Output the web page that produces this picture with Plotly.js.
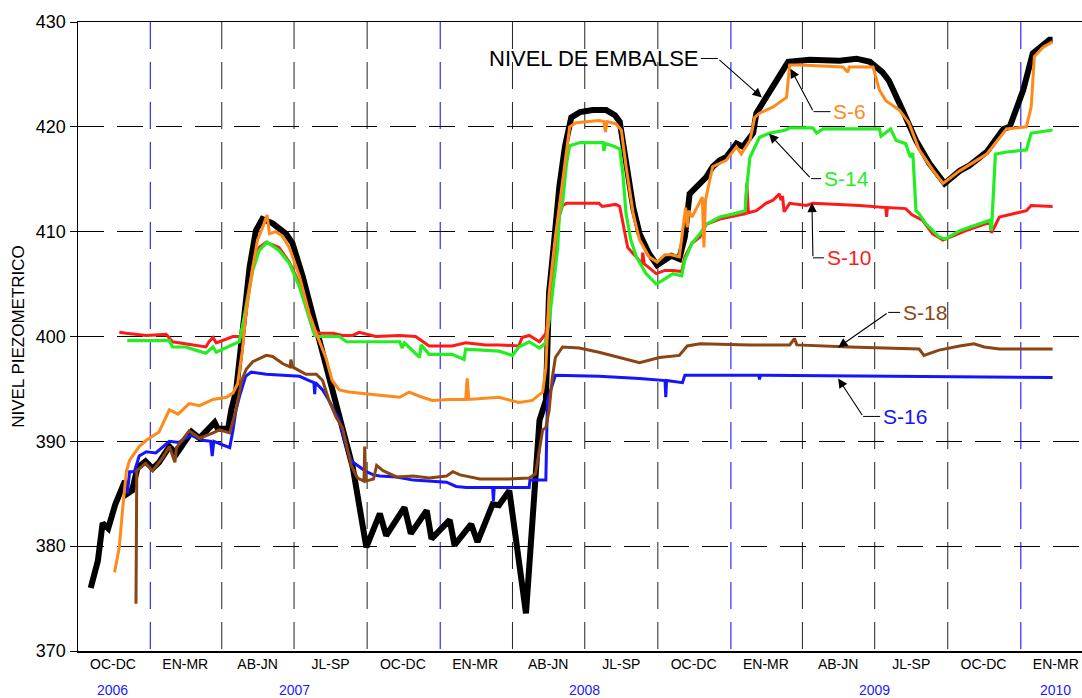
<!DOCTYPE html>
<html>
<head>
<meta charset="utf-8">
<script src="https://cdn.plot.ly/plotly-3.0.1.min.js"></script>
<style>
html,body{margin:0;padding:0;background:#fff;}
#chart{width:1082px;height:698px;}
</style>
</head>
<body>
<div id="chart"></div>
<script>
// ---------- DATA ----------
const quarterCenters = ['2006-11-15','2007-02-14','2007-05-16','2007-08-16','2007-11-15','2008-02-14','2008-05-16','2008-08-16','2008-11-15','2009-02-14','2009-05-16','2009-08-16','2009-11-15','2010-02-14'];
const quarterLabels = ['OC-DC','EN-MR','AB-JN','JL-SP','OC-DC','EN-MR','AB-JN','JL-SP','OC-DC','EN-MR','AB-JN','JL-SP','OC-DC','EN-MR'];
const quarterBounds = ['2007-01-01','2007-04-01','2007-07-01','2007-10-01','2008-01-01','2008-04-01','2008-07-01','2008-10-01','2009-01-01','2009-04-01','2009-07-01','2009-10-01','2010-01-01'];
const yearLabels = ['2006','2007','2008','2009','2010'];
const yearCenters = ['2006-11-15','2007-07-01','2008-07-01','2009-07-01','2010-02-14'];
const yTicks = [370,380,390,400,410,420,430];

const nivelEmbalse = [
['2006-10-18',376.0],['2006-10-27',378.6],['2006-11-02',382.2],['2006-11-09',381.7],['2006-11-18',384.0],['2006-11-30',386.2],
['2006-12-03',385.0],['2006-12-09',385.3],['2006-12-16',387.5],['2006-12-26',388.1],['2007-01-04',387.4],['2007-01-12',388.0],
['2007-01-25',389.5],['2007-02-03',388.8],['2007-02-22',390.9],['2007-03-04',390.3],['2007-03-23',391.8],['2007-03-27',391.2],
['2007-04-09',391.2],['2007-04-13',393.0],['2007-04-19',394.8],['2007-04-27',400.3],['2007-05-06',406.6],['2007-05-14',410.1],
['2007-05-22',411.2],['2007-06-04',410.8],['2007-06-21',409.8],['2007-06-29',408.9],['2007-07-12',405.7],['2007-07-25',401.9],
['2007-08-02',399.6],['2007-08-14',396.1],['2007-08-27',392.6],['2007-09-05',390.1],['2007-09-13',387.5],['2007-09-30',379.9],
['2007-10-17',383.1],['2007-10-25',381.0],['2007-11-17',383.7],['2007-11-25',381.2],['2007-12-15',383.4],['2007-12-21',380.7],
['2008-01-13',382.5],['2008-01-19',380.1],['2008-02-09',382.1],['2008-02-17',380.4],['2008-03-07',384.0],['2008-03-15',383.9],
['2008-03-28',385.3],['2008-04-18',373.6],['2008-04-27',384.4],['2008-05-05',392.0],['2008-05-13',393.9],['2008-05-17',404.1],
['2008-05-24',409.5],['2008-05-30',414.3],['2008-06-06',418.1],['2008-06-14',420.9],['2008-06-25',421.4],['2008-07-11',421.6],
['2008-07-28',421.6],['2008-08-08',421.1],['2008-08-14',420.5],['2008-08-22',416.5],['2008-08-31',412.3],['2008-09-08',409.8],
['2008-09-20',407.9],['2008-09-30',406.8],['2008-10-10',407.4],['2008-10-18',407.7],['2008-10-28',407.4],['2008-11-04',409.5],
['2008-11-10',413.6],['2008-11-23',414.6],['2008-12-01',415.2],['2008-12-09',416.2],['2008-12-18',416.8],['2008-12-26',417.1],
['2009-01-08',418.4],['2009-01-16',418.1],['2009-01-29',419.4],['2009-02-02',421.3],['2009-02-14',422.8],['2009-03-14',426.2],
['2009-04-10',426.4],['2009-05-18',426.3],['2009-06-08',426.5],['2009-06-25',426.2],['2009-07-11',425.2],['2009-07-19',424.4],
['2009-08-05',421.6],['2009-08-22',418.7],['2009-09-08',416.5],['2009-09-27',414.6],['2009-10-16',415.8],['2009-10-28',416.3],
['2009-11-19',417.6],['2009-12-10',419.8],['2009-12-18',420.0],['2010-01-04',423.5],['2010-01-16',427.0],['2010-02-06',428.3],
['2010-02-10',428.3]
];

const s6 = [
['2006-11-17',377.5],['2006-11-23',379.9],['2006-11-27',383.4],['2006-12-02',387.2],['2006-12-06',388.2],['2006-12-18',389.5],
['2006-12-27',390.1],['2007-01-12',390.9],['2007-01-25',393.0],['2007-02-05',392.6],['2007-02-19',393.6],['2007-03-04',393.4],
['2007-03-21',394.0],['2007-04-07',394.2],['2007-04-15',394.6],['2007-04-21',395.5],['2007-04-27',398.7],['2007-05-01',401.9],
['2007-05-10',406.6],['2007-05-16',409.2],['2007-05-22',410.3],['2007-05-28',411.6],['2007-05-31',409.8],['2007-06-08',410.0],
['2007-06-16',409.6],['2007-06-25',408.5],['2007-07-08',405.7],['2007-07-20',402.2],['2007-07-29',400.3],['2007-08-10',398.0],
['2007-08-18',395.8],['2007-08-27',394.9],['2007-09-08',394.7],['2007-09-30',394.5],['2007-10-17',394.4],['2007-11-11',394.2],
['2007-11-23',394.7],['2007-12-06',394.3],['2007-12-22',393.9],['2008-01-13',394.0],['2008-02-02',394.0],['2008-02-04',396.0],
['2008-02-06',394.0],['2008-03-15',394.2],['2008-04-09',393.7],['2008-04-26',393.9],['2008-05-09',394.7],['2008-05-13',397.0],
['2008-05-17',404.0],['2008-05-25',409.5],['2008-05-30',412.4],['2008-06-06',417.0],['2008-06-12',420.0],['2008-06-20',420.4],
['2008-07-19',420.6],['2008-07-25',420.5],['2008-07-27',419.5],['2008-07-29',420.5],['2008-08-09',420.3],['2008-08-16',419.7],
['2008-08-22',416.2],['2008-08-31',411.7],['2008-09-08',409.2],['2008-09-20',407.6],['2008-09-30',407.1],['2008-10-10',407.8],
['2008-10-18',407.8],['2008-10-28',407.6],['2008-11-05',412.3],['2008-11-07',410.4],['2008-11-09',412.0],['2008-11-13',411.4],
['2008-11-26',413.3],['2008-11-28',408.5],['2008-11-30',413.0],['2008-12-09',416.2],['2008-12-26',416.8],['2009-01-08',418.1],
['2009-01-14',417.4],['2009-01-25',418.7],['2009-01-31',420.9],['2009-02-06',421.3],['2009-02-23',421.9],['2009-03-12',422.8],
['2009-03-16',425.9],['2009-03-29',425.9],['2009-05-22',425.7],['2009-05-28',425.2],['2009-05-30',425.7],['2009-06-29',425.7],
['2009-07-07',423.5],['2009-07-15',422.5],['2009-08-01',421.6],['2009-08-13',420.4],['2009-08-26',417.8],['2009-09-12',415.9],
['2009-09-25',414.6],['2009-10-16',415.8],['2009-11-19',417.4],['2009-12-14',419.8],['2010-01-08',420.0],['2010-01-14',421.9],
['2010-01-18',426.7],['2010-01-29',427.6],['2010-02-10',428.1]
];

const s14 = [
['2006-12-03',399.6],['2007-01-25',399.6],['2007-01-29',399.0],['2007-02-15',399.0],['2007-02-27',398.7],['2007-03-12',398.4],
['2007-03-21',399.0],['2007-03-25',398.5],['2007-04-11',399.1],['2007-04-23',399.5],['2007-05-01',402.5],['2007-05-10',406.3],
['2007-05-18',408.2],['2007-05-28',409.0],['2007-06-12',408.2],['2007-06-25',407.0],['2007-07-08',404.7],['2007-07-20',401.9],
['2007-07-27',400.1],['2007-08-02',400.0],['2007-08-27',400.0],['2007-09-05',399.5],['2007-09-30',399.5],['2007-11-11',399.5],
['2007-11-14',398.9],['2007-11-17',399.4],['2007-12-06',398.0],['2007-12-08',399.2],['2007-12-18',398.3],['2008-01-16',398.3],
['2008-01-31',397.8],['2008-02-02',398.8],['2008-03-15',398.6],['2008-04-01',398.2],['2008-04-09',399.0],['2008-04-22',399.5],
['2008-05-05',398.9],['2008-05-13',399.4],['2008-05-18',402.0],['2008-05-23',405.0],['2008-05-28',408.5],['2008-05-30',411.7],
['2008-06-03',412.7],['2008-06-08',416.5],['2008-06-12',418.2],['2008-06-25',418.5],['2008-07-24',418.5],['2008-07-25',417.7],
['2008-07-27',418.4],['2008-08-05',418.2],['2008-08-14',417.9],['2008-08-18',415.5],['2008-08-22',411.7],['2008-08-28',409.2],
['2008-09-04',407.6],['2008-09-16',406.0],['2008-09-29',405.0],['2008-10-10',405.5],['2008-10-20',406.0],['2008-10-31',405.8],
['2008-11-04',407.3],['2008-11-13',408.9],['2008-11-23',409.8],['2008-12-01',410.7],['2008-12-18',411.4],['2009-01-04',411.7],
['2009-01-19',412.0],['2009-01-21',414.3],['2009-01-25',417.1],['2009-02-06',419.0],['2009-02-19',419.4],['2009-03-11',419.7],
['2009-03-16',419.9],['2009-04-14',419.9],['2009-04-19',419.4],['2009-04-27',419.8],['2009-07-07',419.8],['2009-07-09',419.1],
['2009-07-21',419.8],['2009-07-28',418.7],['2009-08-09',418.4],['2009-08-15',417.1],['2009-08-18',417.5],['2009-08-22',412.0],
['2009-08-26',411.7],['2009-09-03',410.8],['2009-09-20',409.5],['2009-09-28',409.3],['2009-10-16',410.1],['2009-11-23',411.1],
['2009-11-25',410.1],['2009-11-30',417.4],['2009-12-14',417.6],['2010-01-08',417.8],['2010-01-14',419.4],['2010-02-10',419.7]
];

const s10 = [
['2006-11-23',400.4],['2006-12-02',400.3],['2006-12-27',400.1],['2007-01-21',400.2],['2007-01-29',399.5],['2007-02-15',399.3],
['2007-03-04',399.1],['2007-03-12',399.0],['2007-03-16',399.5],['2007-03-21',399.9],['2007-03-25',399.4],['2007-04-15',400.0],
['2007-04-26',400.0],['2007-05-01',402.8],['2007-05-10',406.6],['2007-05-18',408.5],['2007-05-27',409.0],['2007-06-12',408.5],
['2007-06-25',407.1],['2007-07-08',405.0],['2007-07-25',400.6],['2007-08-02',400.3],['2007-08-19',400.3],['2007-08-31',400.1],
['2007-09-13',400.1],['2007-09-21',400.4],['2007-10-12',400.0],['2007-11-11',400.1],['2007-12-01',400.0],['2007-12-18',399.1],
['2008-01-16',399.1],['2008-02-02',399.4],['2008-02-27',399.2],['2008-03-15',399.2],['2008-04-09',399.1],['2008-04-13',399.9],
['2008-04-22',400.1],['2008-05-05',399.5],['2008-05-13',400.3],['2008-05-18',403.0],['2008-05-23',406.0],['2008-05-30',411.5],
['2008-06-03',412.5],['2008-06-08',412.7],['2008-07-19',412.7],['2008-07-23',412.4],['2008-08-09',412.6],['2008-08-14',412.4],
['2008-08-18',410.8],['2008-08-24',408.5],['2008-08-31',407.9],['2008-09-04',407.6],['2008-09-11',406.9],['2008-09-12',408.0],
['2008-09-14',406.9],['2008-09-16',406.8],['2008-09-29',406.0],['2008-10-10',406.3],['2008-10-20',406.3],['2008-10-31',406.2],
['2008-11-04',407.6],['2008-11-13',408.9],['2008-11-23',409.5],['2008-12-01',410.7],['2008-12-18',411.2],['2009-01-04',411.5],
['2009-01-19',411.7],['2009-01-21',414.6],['2009-01-23',411.8],['2009-02-02',412.0],['2009-02-14',412.7],['2009-02-23',413.0],
['2009-03-03',413.6],['2009-03-05',413.0],['2009-03-07',413.4],['2009-03-09',411.9],['2009-03-16',412.7],['2009-04-06',412.5],
['2009-04-14',412.7],['2009-06-12',412.5],['2009-07-15',412.3],['2009-07-16',411.4],['2009-07-17',412.3],['2009-08-09',412.2],
['2009-08-17',411.6],['2009-08-30',411.1],['2009-09-12',409.8],['2009-09-25',409.2],['2009-10-07',409.6],['2009-10-24',410.1],
['2009-11-23',410.9],['2009-11-25',409.9],['2009-12-05',411.4],['2009-12-22',411.7],['2010-01-08',412.0],['2010-01-14',412.5],
['2010-02-10',412.4]
];

const s18 = [
['2006-12-14',374.5],['2006-12-15',387.2],['2006-12-26',387.9],['2007-01-04',387.2],['2007-01-17',388.5],['2007-01-25',389.5],
['2007-02-01',388.0],['2007-02-03',389.4],['2007-02-19',391.0],['2007-03-04',390.3],['2007-03-21',390.8],['2007-03-29',391.1],
['2007-04-11',390.8],['2007-04-15',391.8],['2007-04-19',393.0],['2007-04-26',395.8],['2007-05-02',396.9],['2007-05-10',397.6],
['2007-05-18',397.9],['2007-05-27',398.2],['2007-06-04',398.1],['2007-06-17',397.4],['2007-06-26',397.1],['2007-06-27',397.8],
['2007-06-29',397.1],['2007-07-08',396.7],['2007-07-16',396.4],['2007-07-29',396.4],['2007-08-06',395.8],['2007-08-14',393.9],
['2007-08-23',392.3],['2007-08-31',391.3],['2007-09-06',389.3],['2007-09-11',387.7],['2007-09-19',386.5],['2007-09-27',386.2],
['2007-09-28',389.5],['2007-09-29',386.2],['2007-10-09',386.4],['2007-10-13',387.7],['2007-10-21',387.2],['2007-11-07',386.6],
['2007-11-28',386.7],['2007-12-18',386.5],['2008-01-09',386.7],['2008-01-17',387.1],['2008-01-26',386.8],['2008-02-20',386.4],
['2008-03-24',386.4],['2008-04-22',386.5],['2008-04-30',386.9],['2008-05-05',389.2],['2008-05-09',391.1],['2008-05-13',391.3],
['2008-05-17',392.9],['2008-05-21',396.0],['2008-05-25',398.0],['2008-06-03',399.0],['2008-06-24',398.9],['2008-07-19',398.5],
['2008-08-14',398.0],['2008-09-08',397.5],['2008-10-03',398.0],['2008-10-28',398.2],['2008-11-07',399.1],['2008-11-23',399.3],
['2009-01-25',399.2],['2009-03-16',399.2],['2009-03-22',399.8],['2009-03-25',399.2],['2009-05-30',399.0],['2009-08-01',398.9],
['2009-08-26',398.8],['2009-09-01',398.2],['2009-09-20',398.7],['2009-10-16',399.1],['2009-11-03',399.3],['2009-11-16',399.0],
['2009-12-05',398.8],['2010-02-10',398.8]
];

const s16 = [
['2006-12-03',385.0],['2006-12-06',387.1],['2006-12-12',387.1],['2006-12-18',388.6],['2006-12-27',389.0],['2007-01-08',388.9],
['2007-01-25',390.0],['2007-02-06',389.9],['2007-02-21',390.6],['2007-03-08',390.1],['2007-03-18',390.0],['2007-03-20',388.6],
['2007-03-22',390.0],['2007-04-11',389.4],['2007-04-15',391.0],['2007-04-19',393.0],['2007-04-23',394.2],['2007-05-01',396.2],
['2007-05-08',396.6],['2007-05-27',396.4],['2007-06-17',396.3],['2007-07-08',396.2],['2007-07-20',395.8],['2007-07-26',395.6],
['2007-07-27',394.5],['2007-07-28',395.6],['2007-08-06',394.9],['2007-08-14',393.9],['2007-08-27',392.0],['2007-09-05',389.4],
['2007-09-11',388.2],['2007-09-15',387.9],['2007-09-30',387.1],['2007-10-09',386.8],['2007-10-17',386.7],['2007-11-07',386.6],
['2007-11-28',386.3],['2007-12-18',386.2],['2008-01-09',386.1],['2008-01-21',385.7],['2008-02-03',385.6],['2008-03-07',385.6],
['2008-03-08',384.3],['2008-03-09',385.6],['2008-04-22',385.6],['2008-04-23',386.3],['2008-05-13',386.3],['2008-05-15',393.9],
['2008-05-20',395.0],['2008-05-25',396.3],['2008-07-19',396.2],['2008-09-08',396.0],['2008-10-10',395.8],['2008-10-11',394.2],
['2008-10-12',395.8],['2008-11-01',395.6],['2008-11-04',396.3],['2009-02-05',396.3],['2009-02-06',395.9],['2009-02-07',396.3],
['2010-02-10',396.1]
];

// ---------- TRACES ----------
function mk(data, name, color, width){
  return {type:'scatter', mode:'lines', name:name,
    x:data.map(d=>d[0]), y:data.map(d=>d[1]),
    line:{color:color, width:width, shape:'linear'}, hoverinfo:'x+y+name'};
}
const traces = [
  mk(nivelEmbalse,'NIVEL DE EMBALSE','#000000',6),
  mk(s10,'S-10','#ff1a1a',3),
  mk(s14,'S-14','#22ee22',3.2),
  mk(s16,'S-16','#1414ff',3),
  mk(s18,'S-18','#8b4513',3),
  mk(s6,'S-6','#ff8a1c',3)
];

// ---------- LAYOUT ----------
const FONT = 'Liberation Sans, Arial, Helvetica, sans-serif';
const shapes = quarterBounds.map(d => ({
  type:'line', xref:'x', yref:'paper', x0:d, x1:d, y0:1, y1:0, layer:'below',
  line:{color: d.endsWith('-01-01') ? '#0000ff' : '#222222', width:1, dash:'27px,13px'}
}));

const annotations = [];
yearLabels.forEach((t,i)=>{
  annotations.push({xref:'x', yref:'paper', x:yearCenters[i], y:-0.062, text:t, showarrow:false,
    xanchor:'center', yanchor:'middle', font:{family:FONT, size:14, color:'#1a1aff'}});
});

function leader(x, y, ax, ay, L, text, color, anchor){
  annotations.push({xref:'x', yref:'y', x:x, y:y, ax:ax, ay:ay, text:'', showarrow:true,
    arrowhead:2, arrowsize:1.7, arrowwidth:1.1, arrowcolor:'#000', standoff:0});
  annotations.push({xref:'x', yref:'y', x:x, y:y, xshift:ax, yshift:-ay, ax:L, ay:0,
    text:text, showarrow:true, arrowhead:0, arrowwidth:1, arrowcolor:'#000', standoff:0,
    xanchor:anchor, yanchor:'middle', borderpad:2,
    font:{family:FONT, size: text.length>6 ? 22 : 21, color:color}});
}
leader('2009-02-09',422.8,-44,-39,-17,'NIVEL DE EMBALSE','#000000','right');
leader('2009-03-17',425.55,23,43,17,'S-6','#ff8a1c','left');
leader('2009-02-18',419.35,42,45,10,'S-14','#22ee22','left');
leader('2009-04-13',412.75,1,55,11,'S-10','#ff1a1a','left');
leader('2009-05-16',398.96,50,-35,12,'S-18','#8b4513','left');
leader('2009-05-16',396.0,25,38,17,'S-16','#1414ff','left');

const layout = {
  width:1082, height:698,
  margin:{l:78, r:0, t:22, b:47, pad:0},
  paper_bgcolor:'#ffffff', plot_bgcolor:'#ffffff',
  showlegend:false,
  font:{family:FONT, color:'#000'},
  xaxis:{type:'date', range:['2006-10-02','2010-03-19'], showgrid:false, zeroline:false,
    showline:true, linecolor:'#000', linewidth:1.5, mirror:true,
    tickmode:'array', tickvals:quarterCenters, ticktext:quarterLabels, ticks:'',
    tickfont:{family:FONT, size:14, color:'#000'}},
  yaxis:{range:[370,430], tickmode:'array', tickvals:yTicks, showgrid:true,
    gridcolor:'#000', gridwidth:1, griddash:'26px,13px', zeroline:false,
    showline:true, linecolor:'#000', linewidth:1.5, ticks:'outside', ticklen:7, tickcolor:'#000',
    tickfont:{family:FONT, size:18, color:'#000'},
    title:{text:'NIVEL PIEZOMETRICO', font:{family:FONT, size:17, color:'#000'}, standoff:7}},
  shapes:shapes,
  annotations:annotations
};

Plotly.newPlot('chart', traces, layout, {displayModeBar:false, staticPlot:true});
</script>
</body>
</html>
